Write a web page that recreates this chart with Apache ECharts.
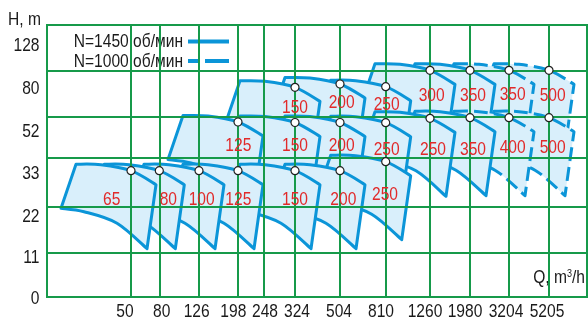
<!DOCTYPE html>
<html><head><meta charset="utf-8">
<script src="https://cdn.jsdelivr.net/npm/echarts@6/dist/echarts.min.js"></script>
<style>html,body{margin:0;padding:0;background:#fff}#c{width:588px;height:320px}</style>
</head><body><div id="c"></div>
<script>
// ---- axis ticks (chart units measured along the drawn axes) ----
const hLabels = ['0','11','22','33','52','80','128'];
const qLabels = ['50','80','126','198','248','324','504','810','1260','1980','3204','5205'];
const qGrid = [84,112.3,152,191,216.3,248,293,338.7,383,423,462,502];
const hGrid = [0,44.5,90.5,139,180.5,226.7,272];
const qLabelPos = [78,114.7,149.7,186.3,218,250,292,334,378,418,459,500];
const hLabelPos = [0,40.3,82,124.5,167,209.5,253];

// ---- pump fields: duty points (white circles) and their labels ----
const row1Names = ['65','80','100','125','150','200','250'];
const row1Points = [[84,126.3],[112.3,126.3],[152,126.3],[191,126.3],[248,126.3],[293,126.3],[338.7,135.3]];
const row1LabelPts = [[64.7,98.7],[121.3,98.7],[154.7,98.7],[191.3,98.7],[248,98.7],[296.3,98.7],[338,103.7]];
const row1Dashed = [0,0,0,0,0,0,0];

const row2Names = ['125','150','200','250','250','350','400','500'];
const row2Points = [[191,175],[248,174.5],[293,174.5],[338.7,174.3],[383,178.7],[423,179.3],[462,179.3],[502,179.3]];
const row2LabelPts = [[191.3,152],[248,152],[294.7,152],[339.7,148.7],[386,148.7],[426,148.7],[465.7,150.3],[505.7,150.3]];
const row2Dashed = [0,0,0,0,0,0,1,1];

const row3Names = ['150','200','250','300','350','350','500'];
const row3Points = [[248,209.7],[293,213],[338.7,210.3],[383,226.7],[423,226.7],[462,226.7],[502,226.7]];
const row3LabelPts = [[248,190.3],[294.7,195.3],[339.7,193],[384.7,202],[426,202],[465.7,203.7],[505.7,202]];
const row3Dashed = [0,0,0,0,0,1,1];

// H-Q field outline relative to its duty point (chart units)
const curveTop = [[-55,6.5],[-30,6],[0,0],[25,-14]];
const curveBottom = [[-70,-37.5],[-47,-41],[-14,-52.5],[16,-78]];

const legendNames = ['N=1450 об/мин','N=1000 об/мин'];

const GREEN = '#169a4a', BLUE = '#0b95d8', FILL = '#d9effb', RED = '#e12a2a', INK = '#1a1a1a';
const FAM = "'Liberation Sans',Arial,sans-serif";
const FONT19 = "19px " + FAM;
const NARROW = 0.82;

// draw order: upper rows first, right to left within a row
const fields = [];
[[row3Points,row3Dashed],[row2Points,row2Dashed],[row1Points,row1Dashed]].forEach(([pts,ds]) => {
  for (let i = pts.length - 1; i >= 0; i--) fields.push([pts[i][0], pts[i][1], ds[i]]);
});
const circles = [].concat(row1Points, row2Points, row3Points);
const labelNames = [], labelPts = [];
[[row1Names,row1LabelPts],[row2Names,row2LabelPts],[row3Names,row3LabelPts]].forEach(([n,p]) => {
  n.forEach((t,i) => { labelNames.push(t); labelPts.push(p[i]); });
});

function crPath(pts){
  let s = '';
  for (let i = 0; i < pts.length - 1; i++) {
    const p0 = pts[i-1] || pts[i], p1 = pts[i], p2 = pts[i+1], p3 = pts[i+2] || pts[i+1];
    const c1 = [p1[0] + (p2[0]-p0[0])/6, p1[1] + (p2[1]-p0[1])/6];
    const c2 = [p2[0] - (p3[0]-p1[0])/6, p2[1] - (p3[1]-p1[1])/6];
    s += ' C' + c1[0] + ' ' + c1[1] + ' ' + c2[0] + ' ' + c2[1] + ' ' + p2[0] + ' ' + p2[1];
  }
  return s;
}
function narrowText(x, y, text, align, fill){
  return {type:'text', x:x, y:y, scaleX:NARROW, silent:true,
    style:{text:text, align:align, verticalAlign:'middle', font:FONT19, fill:fill}};
}

const chart = echarts.init(document.getElementById('c'), null, {renderer:'canvas'});
chart.setOption({
  animation: false,
  backgroundColor: '#fff',
  grid: {left:47, top:25, width:540, height:272, show:true, borderColor:GREEN, borderWidth:2, backgroundColor:'transparent'},
  xAxis: {type:'value', min:0, max:540, axisLine:{show:false}, axisTick:{show:false}, splitLine:{show:false}, axisLabel:{show:false}},
  yAxis: {type:'value', min:0, max:272, axisLine:{show:false}, axisTick:{show:false}, splitLine:{show:false}, axisLabel:{show:false}},
  graphic: [
    {type:'group', children:[
      narrowText(41, 20, 'H, m', 'right', INK),
      narrowText(183, 42, legendNames[0], 'right', INK),
      narrowText(183, 61.5, legendNames[1], 'right', INK),
      {type:'rect', shape:{x:188, y:39.5, width:41, height:4}, style:{fill:BLUE}},
      {type:'rect', shape:{x:188, y:59, width:12, height:4}, style:{fill:BLUE}},
      {type:'rect', shape:{x:205, y:59, width:24, height:4}, style:{fill:BLUE}},
      {type:'text', x:585, y:278, scaleX:NARROW, style:{text:'{a|Q, m}{s|3}{a|/h}', align:'right', verticalAlign:'middle',
        rich:{a:{font:FONT19, fill:INK, lineHeight:20},
              s:{font:'11px ' + FAM, fill:INK, verticalAlign:'top', lineHeight:20}}}}
    ]}
  ],
  series: [
    {name:legendNames[0], type:'custom', z:2, data:fields,
      renderItem: (params, api) => {
        const cx = api.value(0), cy = api.value(1), dashed = api.value(2);
        const top = curveTop.map(o => api.coord([cx+o[0], cy+o[1]]));
        const bot = curveBottom.map(o => api.coord([cx+o[0], cy+o[1]])).reverse();
        const d = 'M' + top[0][0] + ' ' + top[0][1] + crPath(top) + ' L' + bot[0][0] + ' ' + bot[0][1] + crPath(bot) + ' Z';
        return {type:'path', shape:{pathData:d}, style:{fill:FILL, stroke:BLUE, lineWidth:3, lineJoin:'round',
          lineDash: dashed ? [14,6] : null}};
      }},
    {name:'grid', type:'line', data:[], z:3, silent:true,
      markLine:{z:3, silent:true, symbol:['none','none'], label:{show:false}, animation:false,
        lineStyle:{color:GREEN, width:2, type:'solid'},
        emphasis:{disabled:true},
        data: qGrid.map(v => ({xAxis:v})).concat(hGrid.map(v => ({yAxis:v})))}},
    {name:'points', type:'scatter', z:6, data:circles, symbol:'circle', symbolSize:8, silent:true,
      itemStyle:{color:'#fff', borderColor:'#222', borderWidth:1.2, opacity:1}},
    {name:'labels', type:'custom', z:7, data:labelPts, silent:true,
      renderItem: (params, api) => {
        const p = api.coord([api.value(0), api.value(1)]);
        return narrowText(p[0], p[1] + 1, labelNames[params.dataIndex], 'center', RED);
      }},
    {name:'Q ticks', type:'custom', z:7, data:qLabelPos.map(v => [v, 0]), silent:true,
      renderItem: (params, api) => {
        const p = api.coord([api.value(0), 0]);
        return narrowText(p[0], p[1] + 14.5, qLabels[params.dataIndex], 'center', INK);
      }},
    {name:'H ticks', type:'custom', z:7, data:hLabelPos.map(v => [0, v]), silent:true,
      renderItem: (params, api) => {
        const p = api.coord([0, api.value(1)]);
        return narrowText(p[0] - 7.5, p[1] + 1.5, hLabels[params.dataIndex], 'right', INK);
      }}
  ]
});
</script></body></html>
